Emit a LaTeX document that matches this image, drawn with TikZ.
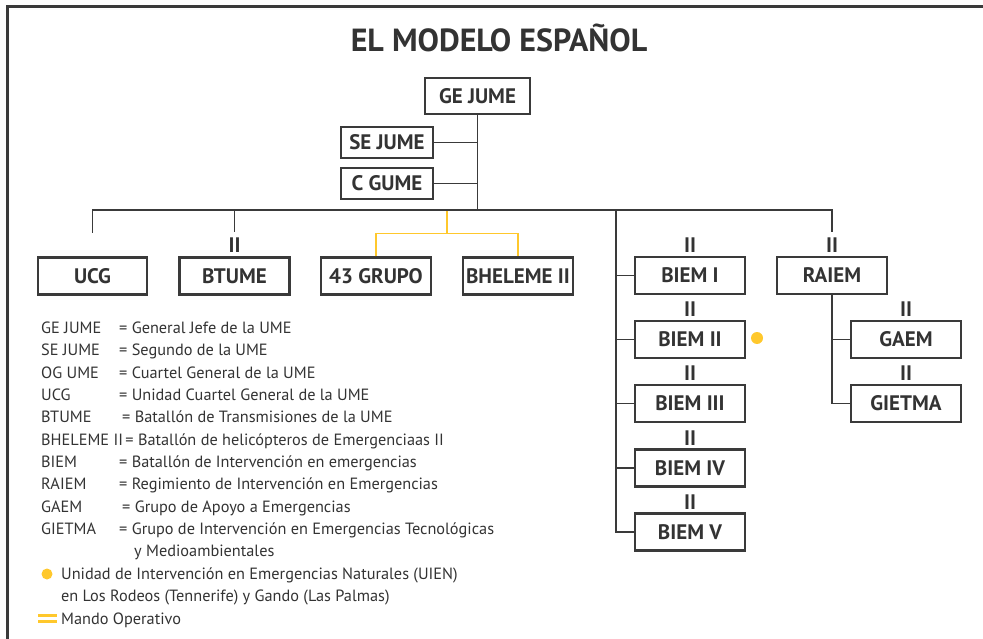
\documentclass[tikz,border=0pt]{standalone}
\usepackage{fontspec}
\setmainfont{PT Sans}
\definecolor{linec}{HTML}{3A3A3A}
\definecolor{textc}{HTML}{333333}
\definecolor{yel}{HTML}{FFC82C}
\begin{document}
\begin{tikzpicture}[x=1pt,y=-1pt,
  box/.style={draw=linec, line width=2.2pt, fill=white, font=\bfseries\fontsize{21}{21}\selectfont, text=textc, minimum height=37pt, minimum width=110pt, inner sep=0pt},
  conn/.style={draw=linec, line width=1.8pt},
  op/.style={draw=yel, line width=1.8pt},
  rank/.style={font=\bfseries\fontsize{21}{21}\selectfont, text=textc, inner sep=0pt},
  leg/.style={anchor=base west, font=\fontsize{16.3}{16.3}\selectfont, text=textc, inner sep=0pt}]
\useasboundingbox (0,0) rectangle (983,639);
\draw[line width=2.5pt, linec] (7.5,639) -- (7.5,6.5) -- (983,6.5);
\node[font=\bfseries\fontsize{32}{32}\selectfont, text=textc, inner sep=0pt] (title) at (499,38) {EL MODELO ESPAÑOL};
% top boxes
\node[box, minimum width=105pt, minimum height=36pt] (ge) at (477.5,96) {GE JUME};
\node[box, minimum width=92pt, minimum height=31pt] (se) at (387,142.5) {SE JUME};
\node[box, minimum width=92pt, minimum height=31pt] (cg) at (387,183.5) {C GUME};
% second row
\node[box, minimum width=109pt] (ucg) at (92.5,276) {UCG};
\node[box] (btume) at (234.5,276) {BTUME};
\node[box] (grupo) at (376,276) {43 GRUPO};
\node[box] (bhel) at (518,276) {BHELEME II};
\node[box] (biemI) at (690,275.5) {BIEM I};
\node[box] (biemII) at (690,339.5) {BIEM II};
\node[box] (biemIII) at (690,403.5) {BIEM III};
\node[box] (biemIV) at (690,468) {BIEM IV};
\node[box] (biemV) at (690,532) {BIEM V};
\node[box] (raiem) at (832,275.5) {RAIEM};
\node[box] (gaem) at (906,339.5) {GAEM};
\node[box] (gietma) at (906,403.5) {GIETMA};
% rank marks
\node[rank] (r1) at (234.5,245) {II};
\node[rank] (r2) at (690,245) {II};
\node[rank] (r3) at (832,245) {II};
\node[rank] (r4) at (690,309.5) {II};
\node[rank] (r5) at (690,373.5) {II};
\node[rank] (r6) at (690,438) {II};
\node[rank] (r7) at (690,502) {II};
\node[rank] (r8) at (906,309.5) {II};
\node[rank] (r9) at (906,373.5) {II};
% coordinates
\coordinate (bus) at (477.5,210);
\coordinate (ucgtop) at (92.5,233);
\coordinate (btumetop) at (234.5,232);
\coordinate (raiemtop) at (832,232);
\coordinate (btrunk) at (616,210);
\coordinate (opjoin) at (447,210);
\coordinate (opmid) at (447,233.5);
% connectors
\draw[conn] (ge.south) -- (bus);
\draw[conn] (se.east) -- (se.east -| ge.south);
\draw[conn] (cg.east) -- (cg.east -| ge.south);
\draw[op] (opjoin) -- (opmid);
\draw[op] (grupo.north) |- (opmid) -| (bhel.north);
\draw[conn] (ucgtop) -- (ucg.north |- bus) -- (raiem.north |- bus) -- (raiemtop);
\draw[conn] (btume.north |- bus) -- (btumetop);
\draw[conn] (btrunk) |- (biemV.west);
\foreach \b in {biemI,biemII,biemIII,biemIV}
  \draw[conn] (\b.west) -- (\b.west -| btrunk);
\draw[conn] (raiem.south) |- (gietma.west);
\draw[conn] (gaem.west) -- (gaem.west -| raiem.south);
\fill[yel] (757,338) circle (6pt);
% legend
\node[leg] (a1) at (41,333) {GE JUME};
\node[leg] (b1) at (119,333) {= General Jefe de la UME};
\node[leg] (a2) at (41,355.5) {SE JUME};
\node[leg] (b2) at (119,355.5) {= Segundo de la UME};
\node[leg] (a3) at (41,378) {OG UME};
\node[leg] (b3) at (119,378) {= Cuartel General de la UME};
\node[leg] (a4) at (41,400.5) {UCG};
\node[leg] (b4) at (119,400.5) {= Unidad Cuartel General de la UME};
\node[leg] (a5) at (41,422.5) {BTUME};
\node[leg] (b5) at (122,422.5) {= Batallón de Transmisiones de la UME};
\node[leg] (a6) at (41,445) {BHELEME II};
\node[leg, anchor=base west, xshift=2pt] (b6) at (a6.base east) {= Batallón de helicópteros de Emergenciaas II};
\node[leg] (a7) at (41,467.5) {BIEM};
\node[leg] (b7) at (119,467.5) {= Batallón de Intervención en emergencias};
\node[leg] (a8) at (41,489.5) {RAIEM};
\node[leg] (b8) at (119,489.5) {= Regimiento de Intervención en Emergencias};
\node[leg] (a9) at (41,512) {GAEM};
\node[leg] (b9) at (122,512) {= Grupo de Apoyo a Emergencias};
\node[leg] (a10) at (41,534.5) {GIETMA};
\node[leg] (b10) at (119,534.5) {= Grupo de Intervención en Emergencias Tecnológicas};
\node[leg] (b11) at (134,556.5) {y Medioambientales};
\fill[yel] (47,574) circle (5.5pt);
\node[leg] (c1) at (61,579.5) {Unidad de Intervención en Emergencias Naturales (UIEN)};
\node[leg] (c2) at (61,601.5) {en Los Rodeos (Tennerife) y Gando (Las Palmas)};
\fill[yel] (38,613.5) rectangle (57,616.5);
\fill[yel] (38,620) rectangle (57,623);
\node[leg] (c3) at (61,624.5) {Mando Operativo};
\end{tikzpicture}
\end{document}
